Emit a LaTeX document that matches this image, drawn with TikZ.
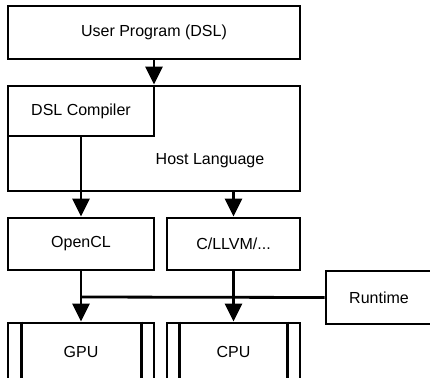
\documentclass[tikz,border=0pt]{standalone}
\usepackage{fontspec}
\setmainfont{Liberation Sans}
\usetikzlibrary{arrows.meta}
\begin{document}
\begin{tikzpicture}[x=1pt,y=-1pt,
  box/.style={draw=black,line width=2.8pt,inner sep=0pt,font=\fontsize{16}{19}\selectfont},
  lbl/.style={inner sep=0pt,font=\fontsize{16}{19}\selectfont},
  arr/.style={line width=2.8pt,-{Triangle[width=17pt,length=18pt]}},
  plain/.style={line width=2.8pt}]
\useasboundingbox (0,0) rectangle (430,377);
\clip (0,0) rectangle (430,377);
\node[box,minimum width=292pt,minimum height=53pt] (user) at (154,32.5) {User Program (DSL)};
\node[box,minimum width=292pt,minimum height=105pt] (host) at (154,138.5) {};
\node[box,minimum width=146pt,minimum height=50pt] (dsl) at (81,111) {DSL Compiler};
\node[lbl] (hostlabel) at (210,161) {Host Language};
\node[box,minimum width=146pt,minimum height=52pt] (opencl) at (81,244) {OpenCL};
\node[box,minimum width=133pt,minimum height=52pt] (cllvm) at (233.5,244) {C/LLVM/...};
\node[box,minimum width=106pt,minimum height=53pt] (runtime) at (379,297.5) {Runtime};
\node[box,minimum width=146pt,minimum height=60pt] (gpu) at (81,353) {};
\node[lbl] (gpulabel) at (81,352) {GPU};
\node[box,minimum width=133pt,minimum height=60pt] (cpu) at (233.5,353) {};
\node[lbl] (cpulabel) at (233.5,352) {CPU};
\draw[plain] ([xshift=15pt]gpu.north west) -- ([xshift=15pt]gpu.south west);
\draw[plain] ([xshift=-14pt]gpu.north east) -- ([xshift=-14pt]gpu.south east);
\draw[plain] ([xshift=14pt]cpu.north west) -- ([xshift=14pt]cpu.south west);
\draw[plain] ([xshift=-14pt]cpu.north east) -- ([xshift=-14pt]cpu.south east);
\coordinate (junc) at (81,297);
\draw[arr] (user.south) -- (host.north -| user.south);
\draw[arr] (dsl.south) -- (opencl.north);
\draw[arr] (host.south -| cllvm.north) -- (cllvm.north);
\draw[arr] (opencl.south) -- (gpu.north);
\draw[arr] (cllvm.south) -- (cpu.north);
\draw[plain] (runtime.west) -- (junc);
\end{tikzpicture}
\end{document}
